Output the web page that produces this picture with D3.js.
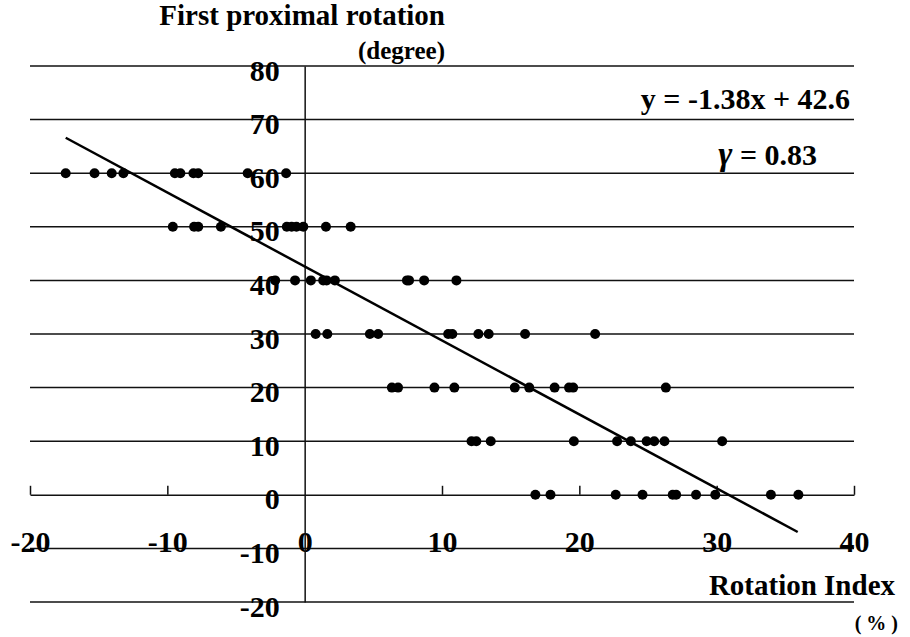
<!DOCTYPE html>
<meta charset="utf-8">
<style>
body { margin: 0; background: #fff; }
text {
  font-family: "Liberation Serif", "Times New Roman", serif;
  font-weight: bold;
  fill: #000;
}
.grid line { stroke: #111; stroke-width: 1.5px; }
</style>
<svg width="910" height="637"></svg>
<script src="https://d3js.org/d3.v7.min.js"></script>
<script>

// x = Rotation Index (%), one array per y level (degree)
var yLevels = [60, 50, 40, 30, 20, 10, 0];
var xAt60 = [-17.4, -15.3, -14.05, -13.2, -9.45, -9.05, -8.1, -7.75, -4.15, -1.35];
var xAt50 = [-9.6, -8.05, -7.75, -6.1, -1.3, -0.95, -0.6, -0.1, 1.55, 3.35];
var xAt40 = [-2.15, -0.7, 0.45, 1.35, 1.6, 2.2, 7.45, 7.6, 8.7, 11.05];
var xAt30 = [0.8, 1.65, 4.75, 5.35, 10.45, 10.75, 12.65, 13.4, 16.05, 21.15];
var xAt20 = [6.35, 6.8, 9.45, 10.9, 15.3, 16.35, 18.2, 19.25, 19.55, 26.3];
var xAt10 = [12.15, 12.5, 13.55, 19.6, 22.75, 23.75, 24.9, 25.45, 26.2, 30.4];
var xAt0  = [16.8, 17.9, 22.65, 24.6, 26.8, 27.05, 28.5, 29.9, 33.95, 35.95];
var xByLevel = [xAt60, xAt50, xAt40, xAt30, xAt20, xAt10, xAt0];

// regression y = slope*x + intercept, drawn between these x values
var slope = -1.38;
var intercept = 42.6;
var fitRange = [-17.4, 35.9];

var xTicks = [-20, -10, 0, 10, 20, 30, 40];
var yTicks = [80, 70, 60, 50, 40, 30, 20, 10, 0, -10, -20];

var svg = d3.select("svg");

var x = d3.scaleLinear().domain([-20, 40]).range([30, 854]);
var y = d3.scaleLinear().domain([-20, 80]).range([602, 66]);

// plain hyphen for negatives, like the original
var fmt = function(d) { return String(d); };

// flatten the points
var points = [];
yLevels.forEach(function(lv, i) {
  xByLevel[i].forEach(function(v) { points.push({x: v, y: lv}); });
});

// horizontal grid lines (the zero line is the x axis, drawn below)
svg.append("g")
    .attr("class", "grid")
  .selectAll("line")
  .data(yTicks.filter(function(d) { return d != 0; }))
  .enter().append("line")
    .attr("x1", x(-20))
    .attr("x2", x(40))
    .attr("y1", function(d) { return y(d); })
    .attr("y2", function(d) { return y(d); });

// x axis along y = 0, ticks pointing up, labels pushed down below the -10 line
var xAxis = svg.append("g")
    .attr("transform", "translate(0," + y(0) + ")")
    .call(d3.axisBottom(x).tickValues(xTicks).tickFormat(fmt).tickSize(-9).tickSizeOuter(0));
xAxis.select(".domain").attr("stroke", "#111").attr("stroke-width", 1.5);
xAxis.selectAll(".tick line").attr("stroke", "#111").attr("stroke-width", 1.5)
    .filter(function(d) { return d == 0; }).remove();
xAxis.selectAll(".tick text")
    .attr("y", 57)
    .attr("dy", null)
    .style("font-size", "30px")
    .style("font-family", "'Liberation Serif', serif")
    .style("font-weight", "bold")
    .attr("fill", "#000");

// y axis at x = 0
var yAxis = svg.append("g")
    .attr("transform", "translate(" + x(0) + ",0)")
    .call(d3.axisLeft(y).tickValues(yTicks).tickFormat(fmt).tickSize(0).tickPadding(25));
yAxis.select(".domain").attr("stroke", "#111").attr("stroke-width", 1.5);
yAxis.selectAll(".tick text")
    .attr("dy", "0.47em")
    .style("font-size", "30px")
    .style("font-family", "'Liberation Serif', serif")
    .style("font-weight", "bold")
    .attr("fill", "#000");

// regression line
svg.append("line")
    .attr("x1", x(fitRange[0]))
    .attr("y1", y(slope * fitRange[0] + intercept))
    .attr("x2", x(fitRange[1]))
    .attr("y2", y(slope * fitRange[1] + intercept))
    .style("stroke", "#000")
    .style("stroke-width", 2.5);

// points
svg.append("g")
  .selectAll("circle")
  .data(points)
  .enter().append("circle")
    .attr("cx", function(d) { return x(d.x); })
    .attr("cy", function(d) { return y(d.y); })
    .attr("r", 5)
    .style("fill", "#000");

// titles and notes
svg.append("text").attr("x", 445).attr("y", 25)
    .attr("text-anchor", "end").style("font-size", "29px")
    .text("First proximal rotation");
svg.append("text").attr("x", 445).attr("y", 59)
    .attr("text-anchor", "end").style("font-size", "25px")
    .text("(degree)");

svg.append("text").attr("x", 850).attr("y", 109)
    .attr("text-anchor", "end").style("font-size", "30px")
    .text("y = -1.38x + 42.6");

var r = svg.append("text").attr("x", 817).attr("y", 165)
    .attr("text-anchor", "end").style("font-size", "30px");
r.append("tspan").style("font-style", "italic").style("font-size", "34px").text("\u03b3");
r.append("tspan").text("  = 0.83");

svg.append("text").attr("x", 895).attr("y", 595)
    .attr("text-anchor", "end").style("font-size", "29px")
    .text("Rotation Index");
svg.append("text").attr("x", 898).attr("y", 630)
    .attr("text-anchor", "end").style("font-size", "20px")
    .text("( % )");

</script>
